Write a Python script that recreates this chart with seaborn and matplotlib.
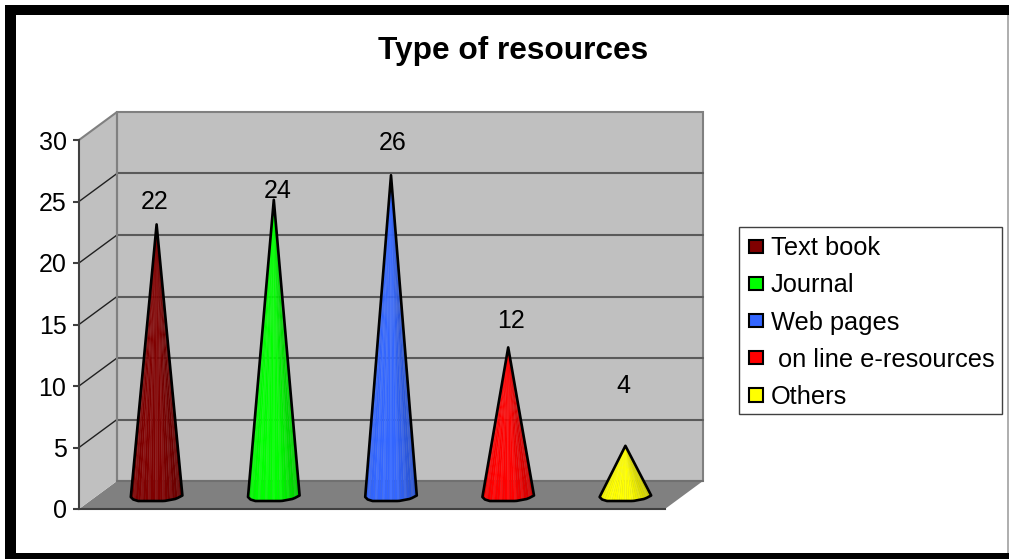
import matplotlib
matplotlib.use("Agg")
import matplotlib.pyplot as plt
from matplotlib.patches import Polygon, Rectangle, Patch
import numpy as np
import seaborn as sns

categories = ["Text book", "Journal", "Web pages", " on line e-resources", "Others"]
values = [22, 24, 26, 12, 4]
colors = ["#800000", "#00FF00", "#3366FF", "#FF0000", "#FFFF00"]
y_ticks = [0, 5, 10, 15, 20, 25, 30]
title = "Type of resources"
# label offsets from the cone tip, in pixels
label_offsets = [(-2, 22), (4, 9), (2, 32), (3, 26), (-2, 60)]

W, H = 1009, 559
sns.set_theme(style="white")
plt.rcParams["font.family"] = ["Liberation Sans", "DejaVu Sans"]

fig = plt.figure(figsize=(W / 100, H / 100), dpi=100, facecolor="white")

# front plane of the chart box, in pixels
LEFT, RIGHT, BASE, TOP = 79, 665, 509, 140
ax = fig.add_axes([LEFT / W, 1 - BASE / H, (RIGHT - LEFT) / W, (BASE - TOP) / H])
ax.patch.set_visible(False)

sns.barplot(x=categories, y=values, hue=categories, palette=colors,
            legend=False, width=0.44, saturation=1, ax=ax)
ax.set_xlim(-0.5, 4.5)
ax.set_ylim(0, 30)

px_x = (RIGHT - LEFT) / 5      # pixels per category
px_y = (BASE - TOP) / 30       # pixels per unit
DX, DY = 38 / px_x, 28 / px_y  # box depth in data units

x0, x1 = -0.5, 4.5


def box_poly(points, **kw):
    ax.add_patch(Polygon(points, closed=True, clip_on=False, **kw))


# walls and floor of the box
box_poly([(x0, 0), (x0 + DX, DY), (x1 + DX, DY), (x1, 0)], fc="#808080", ec="none", zorder=0.5)
box_poly([(x0, 0), (x0 + DX, DY), (x0 + DX, 30 + DY), (x0, 30)], fc="#C0C0C0", ec="none", zorder=0.5)
box_poly([(x0 + DX, DY), (x1 + DX, DY), (x1 + DX, 30 + DY), (x0 + DX, 30 + DY)],
         fc="#C0C0C0", ec="#808080", lw=1.5, zorder=0.6)

for t in y_ticks[1:-1]:
    ax.plot([x0 + DX, x1 + DX], [t + DY, t + DY], color="#5A5A5A", lw=1.5, clip_on=False, zorder=0.7)
    ax.plot([x0, x0 + DX], [t, t + DY], color="#202020", lw=1.0, clip_on=False, zorder=0.7)
ax.plot([x0, x0 + DX], [30, 30 + DY], color="#808080", lw=1.5, clip_on=False, zorder=0.7)
ax.plot([x0 + DX, x0 + DX], [DY, 30 + DY], color="#808080", lw=1.5, clip_on=False, zorder=0.7)
ax.plot([x0 + DX, x1 + DX], [DY, DY], color="#707070", lw=1.5, clip_on=False, zorder=0.7)

# base outline of a cone, in pixels relative to its centre
rim_knots_x = [-26.5, -25.5, -19, 8, 20, 26.5]
rim_knots_y = [-2.0, -4.0, -6.0, -6.0, -3.8, -0.5]
rim_x = np.linspace(-26.5, 26.5, 22)
rim_y = np.interp(rim_x, rim_knots_x, rim_knots_y)


def shade(rgb, frac, idx):
    # darker towards the right side of the cone, with light flutes
    f = 1.0 - 0.2 * max(frac - 0.6, 0) / 0.4 - 0.06 * max(0.15 - frac, 0) / 0.15
    c = np.array(rgb[:3]) * f
    if idx % 3 == 1:
        c = c + (1 - c) * 0.07
    return tuple(np.clip(c, 0, 1))


all_bars = [b for cont in ax.containers for b in cont if b.get_height() > 0]
all_bars.sort(key=lambda b: b.get_x())

for bar, (ox, oy) in zip(all_bars, label_offsets):
    cx = bar.get_x() + bar.get_width() / 2 + DX / 2
    cy = DY / 2
    v = bar.get_height()
    face = bar.get_facecolor()
    half = bar.get_width() / 2
    bar.set_visible(False)

    apex = (cx, v + cy)
    rx = cx + rim_x / 26.5 * half
    ry = cy + rim_y / px_y
    n = len(rx) - 1
    for i in range(n):
        tri = [apex, (rx[i], ry[i]), (rx[i + 1], ry[i + 1])]
        col = shade(face, i / (n - 1), i)
        box_poly(tri, fc=col, ec=col, lw=0.2, zorder=2)
    box_poly([apex] + list(zip(rx, ry)), fc="none", ec="black", lw=1.9, joinstyle="round", zorder=3)

    ax.annotate(f"{int(v)}", xy=apex, xytext=(ox * 0.72, oy * 0.72), textcoords="offset points",
                ha="center", va="center", fontsize=18, color="black", zorder=4,
                annotation_clip=False)

# axes styling
sns.despine(ax=ax, top=True, right=True, left=False, bottom=False)
for name in ("left", "bottom"):
    ax.spines[name].set_color("#404040")
    ax.spines[name].set_linewidth(1.5)
    ax.spines[name].set_zorder(1.5)
ax.set_xticks([])
ax.set_xlabel("")
ax.set_ylabel("")
ax.set_yticks(y_ticks)
ax.tick_params(axis="y", left=True, length=4, width=1.5, color="#404040",
               labelsize=18, pad=5, labelcolor="black")

fig.text(513 / W, 1 - 51 / H, title, ha="center", va="center", fontsize=22.8,
         fontweight="bold", color="black")

# legend box and its entries
fig.add_artist(Rectangle((739 / W, 1 - 414 / H), 263 / W, 187 / H, transform=fig.transFigure,
                         fc="white", ec="#404040", lw=1.0))
handles = [Patch(facecolor=c, edgecolor="black", linewidth=1.5) for c in colors]
leg = fig.legend(handles, categories, loc="upper left",
                 bbox_to_anchor=(738.5 / W, 1 - 226 / H), bbox_transform=fig.transFigure,
                 fontsize=18.3, frameon=False, handlelength=0.55, handleheight=0.42,
                 handletextpad=0.32, labelspacing=0.52, borderpad=0.4, borderaxespad=0,
                 labelcolor="black")
leg.set_zorder(5)

# outer frame
for (x, y, w, h), col in [((5, 5, 1004, 10), "black"), ((5, 5, 11, 554), "black"),
                          ((5, 553, 1004, 6), "black"), ((1007, 15, 2, 538), "#B0B0B0")]:
    fig.add_artist(Rectangle((x / W, 1 - (y + h) / H), w / W, h / H, transform=fig.transFigure,
                             fc=col, ec="none"))

fig.savefig("out.png", dpi=100)
